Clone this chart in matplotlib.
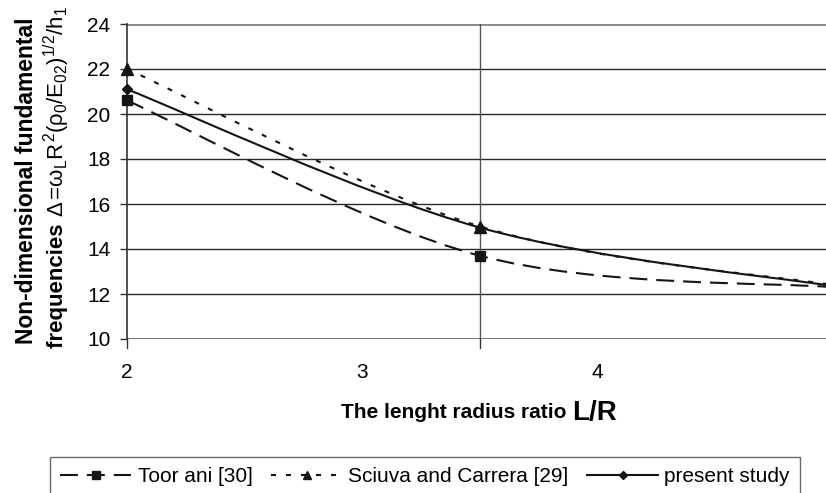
import matplotlib.pyplot as plt
from matplotlib.path import Path
from matplotlib.patches import PathPatch
from matplotlib.lines import Line2D
import numpy as np

# L/R values and frequencies
ratio = [2, 3.5, 5]
toorani = [20.6, 13.7, 12.3]
sciuva = [22.0, 15.0, 12.4]
present = [21.1, 14.95, 12.35]

xtick_pos = [2, 3, 4]
xtick_labels = ['2', '3', '4']
ytick_vals = [10, 12, 14, 16, 18, 20, 22, 24]

plt.rcParams['font.family'] = ['Liberation Sans', 'DejaVu Sans']
plt.rcParams['mathtext.fontset'] = 'custom'
plt.rcParams['mathtext.rm'] = 'Liberation Sans'
plt.rcParams['mathtext.it'] = 'Liberation Sans'
plt.rcParams['mathtext.bf'] = 'Liberation Sans:bold'

W, H = 826, 493
fig = plt.figure(figsize=(W / 100, H / 100), dpi=100)
ax = fig.add_axes([127 / W, 1 - 339 / H, (W - 127) / W, (339 - 24) / H])


def smooth_path(xs, ys):
    # excel-like smoothed line: cubic bezier through the points
    pts = np.column_stack([xs, ys]).astype(float)
    n = len(pts)
    verts = [pts[0]]
    codes = [Path.MOVETO]
    for i in range(n - 1):
        p_prev = pts[max(i - 1, 0)]
        p0 = pts[i]
        p1 = pts[i + 1]
        p_next = pts[min(i + 2, n - 1)]
        verts += [p0 + (p1 - p_prev) / 6, p1 - (p_next - p0) / 6, p1]
        codes += [Path.CURVE4] * 3
    return Path(verts, codes)


ink = '#151515'
styles = [
    (toorani, (0, (8.6, 4.3)), 's', 7.5, 'Toor ani [30]'),
    (sciuva, (0, (2.4, 4.8)), '^', 8, 'Sciuva and Carrera [29]'),
    (present, 'solid', 'D', 5.5, 'present study'),
]

handles = []
for vals, ls, mk, ms, lab in styles:
    ax.add_patch(PathPatch(smooth_path(ratio, vals), fill=False, lw=1.5,
                           ls=ls, edgecolor=ink, zorder=3))
    # the point at L/R=5 sits just past the right edge of the picture
    ax.plot(ratio, vals, ls='none', marker=mk, ms=ms, color=ink, zorder=4,
            clip_on=False)
    handles.append(Line2D([], [], color=ink, lw=1.5, ls=ls, marker=mk,
                          ms=ms * 0.75, label=lab))

ax.set_xlim(2, 2 + (W - 127) / 235.3)
ax.set_ylim(10, 24)

# grid lines
for y in ytick_vals:
    ax.axhline(y, color='#2a2a2a', lw=1, zorder=1)
ax.axhline(24, color='#8a8a8a', lw=2, zorder=1)
ax.axhline(10, color='#6a6a6a', lw=2, zorder=1)
ax.axvline(3.5, color='#555555', lw=1, zorder=1)

ax.set_yticks(ytick_vals)
ax.set_yticklabels([str(v) for v in ytick_vals], fontsize=15)
ax.set_xticks(xtick_pos)
ax.set_xticklabels(xtick_labels, fontsize=15)
ax.tick_params(axis='x', length=0, pad=17)
ax.tick_params(axis='y', length=5, width=1, color='#333333', pad=7)
# tick marks of the excel axis at 2 and 3.5
for xt in [2, 3.5]:
    ax.plot([xt, xt], [0, -0.03], transform=ax.get_xaxis_transform(),
            color='#333333', lw=1, clip_on=False)

for s in ['top', 'right', 'bottom']:
    ax.spines[s].set_visible(False)
ax.spines['left'].set_color('#333333')
ax.spines['left'].set_linewidth(1.2)

# y label, two lines
fig.text(27 / W, 1 - 181 / H, 'Non-dimensional fundamental', rotation=90,
         fontsize=16.5, fontweight='bold', ha='center', va='center')
t1 = fig.text(57 / W, 1 - 348 / H, 'frequencies ', rotation=90,
              fontsize=16, fontweight='bold', ha='center', va='bottom')
fig.canvas.draw()
bb = t1.get_window_extent()
fig.text(57 / W, bb.y1 / H, r'$\Delta\,$=$\omega_L R^2(\rho_0/E_{02})^{1/2}/h_1$',
         rotation=90, fontsize=16, ha='center', va='bottom')

# x label, centred under the plot area
t2 = fig.text(0, 1 - 413 / H, 'The lenght radius ratio ', fontsize=15,
              fontweight='bold', ha='left', va='center')
t3 = fig.text(0, 1 - 413 / H, 'L/R', fontsize=20, fontweight='bold',
              ha='left', va='center')
fig.canvas.draw()
w2 = t2.get_window_extent().width
w3 = t3.get_window_extent().width
x0 = 479 - (w2 + w3) / 2
t2.set_x(x0 / W)
t3.set_x((x0 + w2) / W)

leg = fig.legend(handles=handles, ncol=3, loc='upper left',
                 bbox_to_anchor=(50 / W, 1 - 457 / H), borderaxespad=0,
                 frameon=True, fancybox=False, edgecolor='#444444',
                 handlelength=3.4, columnspacing=0.9, handletextpad=0.3,
                 borderpad=0.5, prop={'size': 15})
leg.get_frame().set_linewidth(1)

fig.savefig('out.png', dpi=100)
